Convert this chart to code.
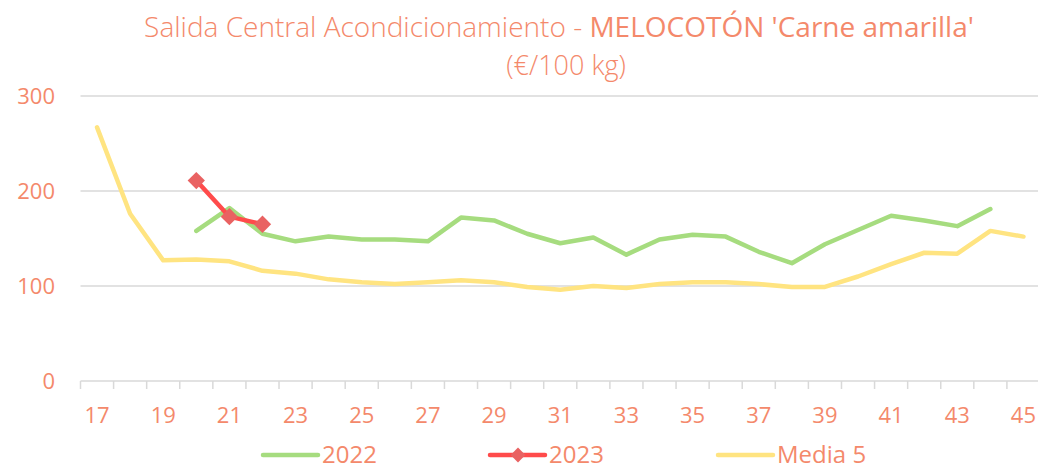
<!DOCTYPE html>
<html>
<head>
<meta charset="utf-8">
<script src="https://cdn.jsdelivr.net/npm/d3@7"></script>
<style>
	body { margin: 0; background: #fff; }
	svg { display: block; font-family: "Open Sans", sans-serif; }
</style>
</head>
<body>
<div class="chart"></div>
<script>
const width = 1038,
	height = 469;

const weeks = d3.range(17, 46);
const labelWeeks = weeks.filter((w) => w % 2 === 1);

const values2022 = [null, null, null, 158, 182, 155, 147, 152, 149, 149, 147, 172, 169, 155,
	145, 151, 133, 149, 154, 152, 136, 124, 144, 159, 174, 169, 163, 181, null];
const values2023 = [null, null, null, 211, 173, 165, null, null, null, null, null, null, null, null,
	null, null, null, null, null, null, null, null, null, null, null, null, null, null, null];
const valuesMedia = [267, 176, 127, 128, 126, 116, 113, 107, 104, 102, 104, 106, 104, 99,
	96, 100, 98, 102, 104, 104, 102, 99, 99, 110, 123, 135, 134, 158, 152];

const yTicks = [0, 100, 200, 300];

const series = [
	{ name: "2022", values: values2022, color: "#a6dc7f", marker: false },
	{ name: "2023", values: values2023, color: "#ff4b4b", marker: true },
	{ name: "Media 5", values: valuesMedia, color: "#ffe481", marker: false },
];

const textColor = "#f4896b";
const gridColor = "#d9d9d9";

const margin = { top: 96, right: -2, bottom: 88, left: 80.5 };

const x = d3
	.scaleBand()
	.domain(weeks)
	.range([margin.left, width - margin.right])
	.padding(0);

const y = d3
	.scaleLinear()
	.domain([0, 300])
	.range([height - margin.bottom, margin.top]);

const svg = d3
	.select(".chart")
	.append("svg")
	.attr("width", width)
	.attr("height", height);

// title
const title = svg
	.append("text")
	.attr("x", 559)
	.attr("y", 37)
	.attr("text-anchor", "middle")
	.attr("fill", textColor)
	.style("font-size", "28px");
title.append("tspan").attr("font-weight", 300).text("Salida Central Acondicionamiento - ");
title.append("tspan").attr("font-weight", 400).text("MELOCOTÓN 'Carne amarilla'");

svg
	.append("text")
	.attr("x", 566)
	.attr("y", 75)
	.attr("text-anchor", "middle")
	.attr("fill", textColor)
	.attr("font-weight", 300)
	.style("font-size", "27px")
	.text("(€/100 kg)");

// gridlines
svg
	.append("g")
	.selectAll("line")
	.data(yTicks.filter((d) => d > 0))
	.join("line")
	.attr("x1", margin.left)
	.attr("x2", width)
	.attr("y1", (d) => y(d))
	.attr("y2", (d) => y(d))
	.attr("stroke", gridColor)
	.attr("stroke-width", 1.5);

// y labels
svg
	.append("g")
	.selectAll("text")
	.data(yTicks)
	.join("text")
	.attr("x", 55)
	.attr("y", (d) => y(d) + 8)
	.attr("text-anchor", "end")
	.attr("fill", textColor)
	.style("font-size", "22px")
	.text((d) => d);

// x axis line and tick marks at category boundaries
const xAxis = svg.append("g");
xAxis
	.append("line")
	.attr("x1", margin.left)
	.attr("x2", width)
	.attr("y1", y(0))
	.attr("y2", y(0))
	.attr("stroke", gridColor)
	.attr("stroke-width", 1.5);

xAxis
	.selectAll(".tick-mark")
	.data(weeks)
	.join("line")
	.attr("class", "tick-mark")
	.attr("x1", (d) => x(d))
	.attr("x2", (d) => x(d))
	.attr("y1", y(0))
	.attr("y2", y(0) + 8)
	.attr("stroke", gridColor)
	.attr("stroke-width", 1.5);

xAxis
	.selectAll("text")
	.data(labelWeeks)
	.join("text")
	.attr("x", (d) => x(d) + x.bandwidth() / 2)
	.attr("y", y(0) + 42)
	.attr("text-anchor", "middle")
	.attr("fill", textColor)
	.style("font-size", "22px")
	.text((d) => d);

// lines
const line = d3
	.line()
	.defined((d) => d != null)
	.x((d, i) => x(weeks[i]) + x.bandwidth() / 2)
	.y((d) => y(d));

const drawOrder = [series[0], series[2], series[1]];

svg
	.append("g")
	.selectAll("path")
	.data(drawOrder)
	.join("path")
	.attr("fill", "none")
	.attr("stroke", (d) => d.color)
	.attr("stroke-width", 4.5)
	.attr("stroke-linejoin", "round")
	.attr("stroke-linecap", "round")
	.attr("d", (d) => line(d.values));

svg
	.append("g")
	.selectAll("path")
	.data(values2023.map((v, i) => ({ v, w: weeks[i] })).filter((d) => d.v != null))
	.join("path")
	.attr("transform", (d) => `translate(${x(d.w) + x.bandwidth() / 2},${y(d.v)}) rotate(45)`)
	.attr("d", d3.symbol().type(d3.symbolSquare).size(150))
	.attr("fill", "#e96262");

// legend
const legendX = [263, 490, 718];
const legend = svg
	.append("g")
	.selectAll("g")
	.data(series)
	.join("g")
	.attr("transform", (d, i) => `translate(${legendX[i]},455)`);

legend
	.append("line")
	.attr("x1", 0)
	.attr("x2", 55)
	.attr("stroke", (d) => d.color)
	.attr("stroke-width", 4.5)
	.attr("stroke-linecap", "round");

legend
	.filter((d) => d.marker)
	.append("path")
	.attr("transform", "translate(28,0) rotate(45)")
	.attr("d", d3.symbol().type(d3.symbolSquare).size(110))
	.attr("fill", "#e96262");

legend
	.append("text")
	.attr("x", 59)
	.attr("y", 8)
	.attr("fill", textColor)
	.style("font-size", "24px")
	.text((d) => d.name);
</script>
</body>
</html>
